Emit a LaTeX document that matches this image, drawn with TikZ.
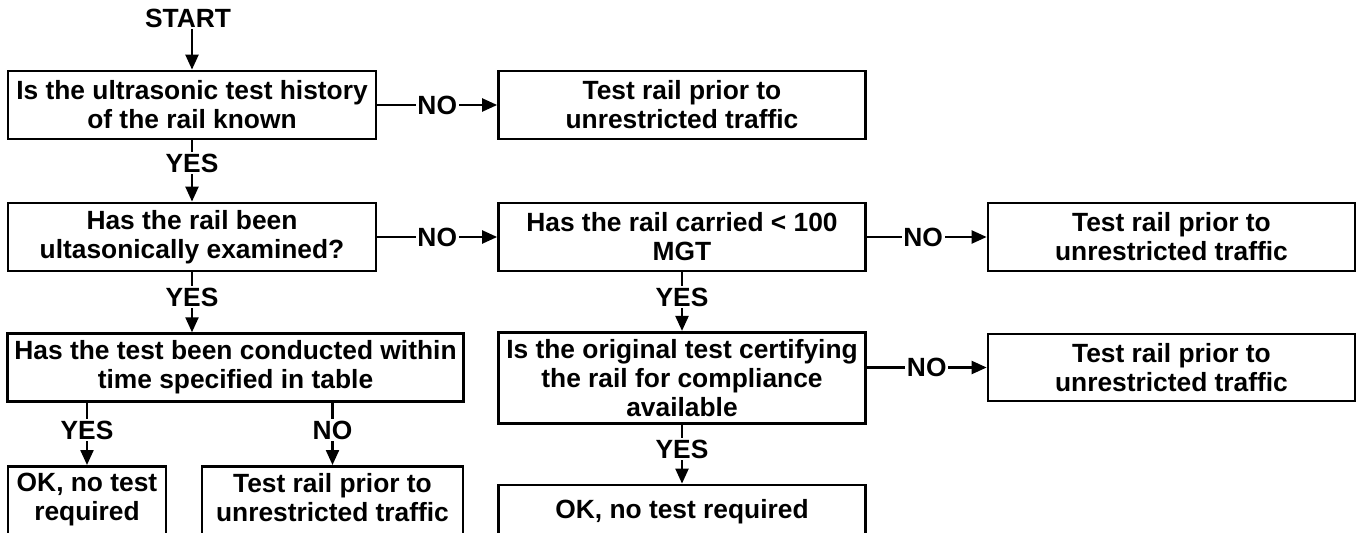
\documentclass[tikz,border=0pt]{standalone}
\usepackage{fontspec}
\setmainfont{Liberation Sans}
\usetikzlibrary{arrows.meta}
\begin{document}
\begin{tikzpicture}[x=0.02cm, y=-0.02cm,
    >={Triangle[length=0.3cm,width=0.26cm]},
    every node/.append style={font=\bfseries\fontsize{15pt}{16.5pt}\selectfont},
    box/.style={draw, line width=1.6pt, align=center, inner sep=4pt, minimum height=1.36cm},
    lbl/.style={fill=white, inner sep=1pt}]
    \useasboundingbox (0,0) rectangle (1359,533);
    \clip (0,0) rectangle (1359,533);

    \node[lbl] (start) at (188,18) {START};
    \node[box, minimum width=7.36cm] (hist_q) at (192,105) {Is the ultrasonic test history\\of the rail known};
    \node[box, minimum width=7.34cm] (test_a) at (682,105) {Test rail prior to\\unrestricted traffic};
    \node[box, minimum width=7.36cm] (exam_q) at (192,237) {Has the rail been\\ultasonically examined?};
    \node[box, minimum width=7.34cm] (mgt_q) at (682,237) {Has the rail carried < 100\\MGT};
    \node[box, minimum width=7.34cm] (test_b) at (1171.5,237) {Test rail prior to\\unrestricted traffic};
    \node[box, minimum width=9.1cm, minimum height=1.34cm] (time_q) at (235.5,367.5) {Has the test been conducted within\\time specified in table};
    \node[box, minimum width=7.34cm, minimum height=1.76cm] (cert_q) at (682,378) {Is the original test certifying\\the rail for compliance\\available};
    \node[box, minimum width=7.34cm, minimum height=1.34cm] (test_c) at (1171.5,367.5) {Test rail prior to\\unrestricted traffic};
    \node[box, minimum width=3.16cm, minimum height=0pt, anchor=north, text depth=1.5cm] (ok_a) at (87,465) {OK, no test\\required};
    \node[box, minimum width=5.22cm, minimum height=0pt, anchor=north, text depth=1.5cm] (test_d) at (332.5,465) {Test rail prior to\\unrestricted traffic};
    \node[box, minimum width=7.34cm, minimum height=1.08cm] (ok_b) at (682,512) {OK, no test required};

    \path[->, line width=1.3pt]
        (start.south -| hist_q) edge (hist_q)
        (hist_q) edge node[lbl] {NO} (test_a)
        (hist_q) edge node[lbl, pos=.375] {YES} (exam_q)
        (exam_q) edge node[lbl] {NO} (mgt_q)
        (mgt_q) edge node[lbl, pos=.47] {NO} (test_b)
        (exam_q.south) edge node[lbl, pos=.41] {YES} (exam_q.south |- time_q.north)
        (mgt_q) edge node[lbl, pos=.42] {YES} (cert_q)
        (cert_q.east |- test_c) edge node[lbl] {NO} (test_c)
        (time_q.south -| ok_a) edge node[lbl, pos=.44] {YES} (ok_a)
        (time_q.south -| test_d) edge node[lbl, pos=.44] {NO} (test_d)
        (cert_q) edge node[lbl, pos=.41] {YES} (ok_b);
\end{tikzpicture}
\end{document}
